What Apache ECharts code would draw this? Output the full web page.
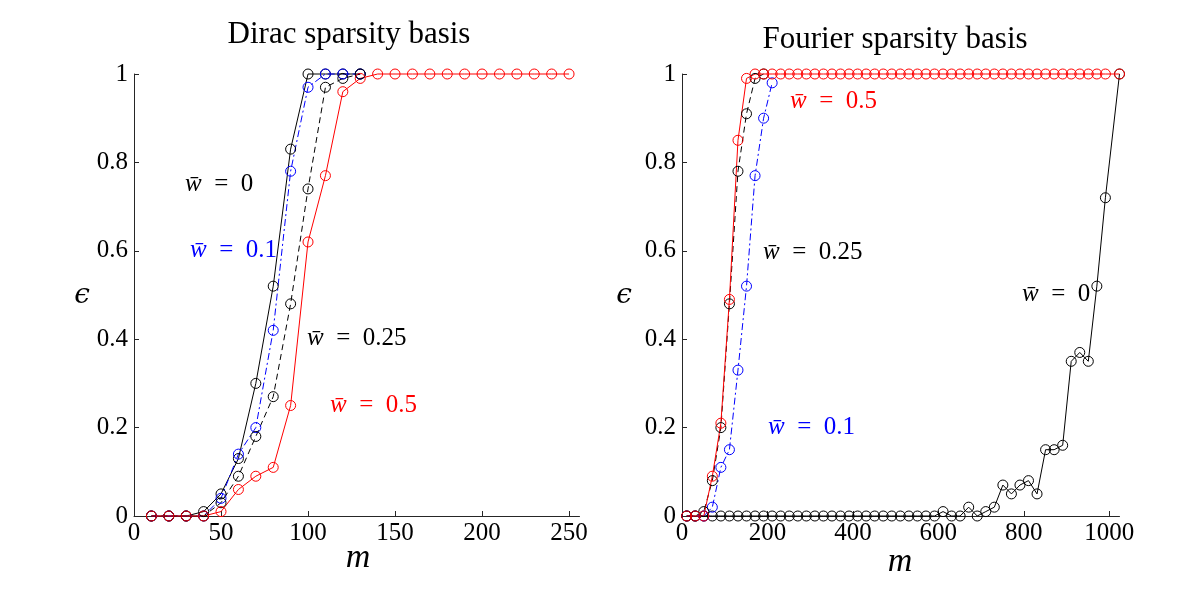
<!DOCTYPE html>
<html>
<head>
<meta charset="utf-8">
<script src="https://cdn.jsdelivr.net/npm/echarts@6/dist/echarts.min.js"></script>
<style>html,body{margin:0;padding:0;background:#fff}#c{width:1200px;height:600px}</style>
</head>
<body>
<div id="c"></div>
<script>
// ---------- data ----------
const xTicksDirac = [0, 50, 100, 150, 200, 250];
const xTicksFourier = [0, 200, 400, 600, 800, 1000];
const yTicks = [0, 0.2, 0.4, 0.6, 0.8, 1];

const mDirac = [10,20,30,40,50,60,70,80,90,100,110,120,130,140,150,160,170,180,190,200,210,220,230,240,250];
const dirac_w0   = [0,0,0,0.01,0.05,0.13,0.30,0.52,0.83,1,1,1,1];
const dirac_w01  = [0,0,0,0,0.04,0.14,0.20,0.42,0.78,0.97,1,1,1];
const dirac_w025 = [0,0,0,0,0.03,0.09,0.18,0.27,0.48,0.74,0.97,0.99,1];
const dirac_w05  = [0,0,0,0,0.01,0.06,0.09,0.11,0.25,0.62,0.77,0.96,0.99,1,1,1,1,1,1,1,1,1,1,1,1];

const mFourier = [11,31,51,71,91,111,131,151,171,191,211,231,251,271,291,311,331,351,371,391,
  411,431,451,471,491,511,531,551,571,591,611,631,651,671,691,711,731,751,771,791,
  811,831,851,871,891,911,931,951,971,991,1024];
const four_w0 = [0,0,0,0,0,0,0,0,0,0,0,0,0,0,0,0,0,0,0,0,0,0,0,0,0,0,0,0,0,0,
  0.01,0,0,0.02,0,0.01,0.02,0.07,0.05,0.07,0.08,0.05,0.15,0.15,0.16,0.35,0.37,0.35,0.52,0.72,1.0];
const four_w01  = [0,0,0,0.02,0.11,0.15,0.33,0.52,0.77,0.90,0.98];
const four_w025 = [0,0,0.01,0.08,0.20,0.48,0.78,0.91,0.99,1];
const four_w05  = [0,0,0,0.09,0.21,0.49,0.85,0.99,1,1,1,1,1,1,1,1,1,1,1,1,1,1,1,1,1,1,1,1,1,1,
  1,1,1,1,1,1,1,1,1,1,1,1,1,1,1,1,1,1,1,1,1];

// ---------- chart ----------
const SERIF = '"Liberation Serif", "DejaVu Serif", serif';
const AX = '#262626';
const BLACK = '#000000', BLUE = '#0000ff', RED = '#ff0000';

function pairs(ms, vs) { return vs.map((v, i) => [ms[i], v]); }
function ser(idx, ms, vs, color, dash) {
  return {
    type: 'line', xAxisIndex: idx, yAxisIndex: idx, data: pairs(ms, vs),
    symbol: 'circle', symbolSize: 10, clip: false, animation: false,
    lineStyle: { color: color, width: 1, type: dash },
    itemStyle: { color: 'rgba(0,0,0,0)', borderColor: color, borderWidth: 1 },
    emphasis: { disabled: true }
  };
}
function fmt(v) { return String(v); }
function xAx(idx, max, ticks) {
  return {
    type: 'value', gridIndex: idx, min: 0, max: max,
    axisLine: { show: true, lineStyle: { color: AX, width: 1 } },
    axisTick: { show: true, inside: true, length: 5, customValues: ticks, lineStyle: { color: AX } },
    axisLabel: { customValues: ticks, formatter: fmt, color: '#000', fontFamily: SERIF, fontSize: 25, margin: 5 },
    splitLine: { show: false }
  };
}
function yAx(idx) {
  return {
    type: 'value', gridIndex: idx, min: 0, max: 1,
    axisLine: { show: true, lineStyle: { color: AX, width: 1 } },
    axisTick: { show: true, inside: true, length: 5, customValues: yTicks, lineStyle: { color: AX } },
    axisLabel: { customValues: yTicks, formatter: fmt, color: '#000', fontFamily: SERIF, fontSize: 25, margin: 6 },
    splitLine: { show: false }
  };
}
function label(x, y, val, color) {
  return {
    type: 'text', left: x, top: y - 15,
    style: {
      text: '{i|w\u0304}  =  ' + val,
      fill: color, font: '25px ' + SERIF,
      rich: { i: { fontStyle: 'italic', fontFamily: SERIF, fontSize: 25, fill: color } }
    }
  };
}
function txt(x, y, s, size, italic, fam) {
  return {
    type: 'text', x: x, y: y,
    style: { text: s, fill: '#000', font: (italic ? 'italic ' : '') + size + 'px ' + (fam || SERIF),
      textAlign: 'center', textVerticalAlign: 'middle' }
  };
}

const chart = echarts.init(document.getElementById('c'), null, { renderer: 'canvas' });
chart.setOption({
  animation: false,
  backgroundColor: '#fff',
  grid: [
    { left: 134, top: 74, width: 445.5, height: 442, outerBoundsMode: 'none' },
    { left: 682, top: 74, width: 437.5, height: 442, outerBoundsMode: 'none' }
  ],
  xAxis: [xAx(0, 256, xTicksDirac), xAx(1, 1024, xTicksFourier)],
  yAxis: [yAx(0), yAx(1)],
  series: [
    ser(0, mDirac, dirac_w0, BLACK, 'solid'),
    ser(0, mDirac, dirac_w01, BLUE, [7, 3, 2, 3]),
    ser(0, mDirac, dirac_w025, BLACK, [6, 4]),
    ser(0, mDirac, dirac_w05, RED, 'solid'),
    ser(1, mFourier, four_w0, BLACK, 'solid'),
    ser(1, mFourier, four_w01, BLUE, [7, 3, 2, 3]),
    ser(1, mFourier, four_w025, BLACK, [6, 4]),
    ser(1, mFourier, four_w05, RED, 'solid')
  ],
  graphic: [
    txt(349, 35, 'Dirac sparsity basis', 31, false),
    txt(895, 40, 'Fourier sparsity basis', 31, false),
    txt(82, 296, '\u03f5', 28, true, '"DejaVu Serif", serif'),
    txt(624, 296, '\u03f5', 28, true, '"DejaVu Serif", serif'),
    txt(358, 558, 'm', 34, true),
    txt(900, 562, 'm', 34, true),
    label(185, 187, '0', BLACK),
    label(190, 253, '0.1', BLUE),
    label(307, 341, '0.25', BLACK),
    label(330, 408, '0.5', RED),
    label(790, 104, '0.5', RED),
    label(763, 255, '0.25', BLACK),
    label(1022, 297, '0', BLACK),
    label(768, 430, '0.1', BLUE)
  ]
});
</script>
</body>
</html>
